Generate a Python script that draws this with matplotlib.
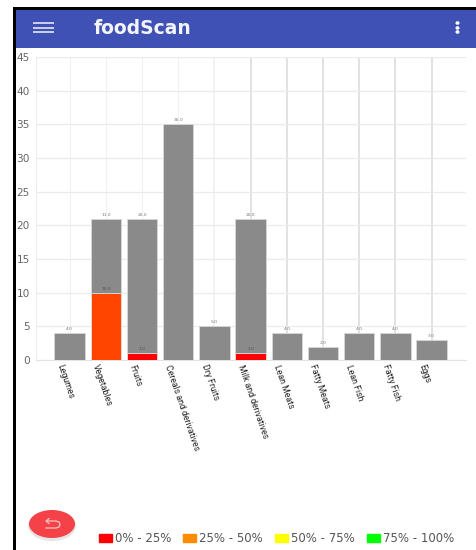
import matplotlib
matplotlib.use('Agg')
import numpy as np
import matplotlib.pyplot as plt
from matplotlib.patches import Rectangle, Ellipse, Patch

#----------DATA-----------------------
categories = ['Legumes', 'Vegetables', 'Fruits', 'Cereals and derivatives', 'Dry Fruits',
              'Milk and derivatives', 'Lean Meats', 'Fatty Meats', 'Lean Fish', 'Fatty Fish', 'Eggs']
low_values = [0, 10, 1, 0, 0, 1, 0, 0, 0, 0, 0]
rest_values = [4, 11, 20, 35, 5, 20, 4, 2, 4, 4, 3]
low_colors = ['#FF0000', '#FF4500', '#FF0000', '#FF0000', '#FF0000', '#FF0000',
              '#FF0000', '#FF0000', '#FF0000', '#FF0000', '#FF0000']
y_ticks = [0, 5, 10, 15, 20, 25, 30, 35, 40, 45]
legend_labels = ['0% - 25%', '25% - 50%', '50% - 75%', '75% - 100%']
legend_colors = ['#FF0000', '#FF8C00', '#FFFF00', '#00FF00']

W, H = 477, 550
fig = plt.figure(figsize=(W / 100, H / 100), dpi=100, facecolor='white')

#----------APP CHROME (pixel coordinates)-----------------------
bg = fig.add_axes([0, 0, 1, 1], zorder=0)
bg.set_xlim(0, W)
bg.set_ylim(H, 0)
bg.axis('off')

bg.add_patch(Rectangle((13, 7), W - 13, 2.5, color='black', lw=0))
bg.add_patch(Rectangle((13, 7), 3, H - 7, color='black', lw=0))
bg.add_patch(Rectangle((16, 9.5), W - 16, 38, color='#3F51B5', lw=0))

for yy in (23, 28, 32):
    bg.plot([33, 54], [yy, yy], color='#E4E7F5', lw=1.2, solid_capstyle='butt')
for yy in (23, 28, 32):
    bg.add_patch(Ellipse((457.5, yy), 4, 3.6, color='white', lw=0))
bg.text(94, 28, 'foodScan', color='#F4F5FB', fontsize=13.5, fontweight='bold',
        family='DejaVu Sans', va='center', ha='left')

# back button
bg.add_patch(Ellipse((52, 526), 48, 30, color='#999999', alpha=0.25, lw=0))
bg.add_patch(Ellipse((52, 524), 46, 28, color='#F44248', lw=0))
bg.plot([47, 56, 59, 60, 59, 56, 46], [521, 521, 522, 524.5, 527, 528, 528],
        color='#FBC5C7', lw=0.9)
bg.plot([49, 46, 49], [518.5, 521, 523.5], color='#FBC5C7', lw=0.9)

#----------CHART-----------------------
left, right, top, bottom = 36, 466, 57, 360
ax = fig.add_axes([left / W, 1 - bottom / H, (right - left) / W, (bottom - top) / H], zorder=1)
ax.patch.set_alpha(0)

x = np.arange(len(categories))
ax.bar(x, low_values, width=0.84, color=low_colors, edgecolor='#E2E2E2', linewidth=0.6, zorder=3)
ax.bar(x, rest_values, width=0.84, bottom=low_values, color='#8A8A8A',
       edgecolor='#D8D8D8', linewidth=0.6, zorder=3)

# tiny value labels above each segment
for i in x:
    total = low_values[i] + rest_values[i]
    ax.text(i, total + 0.3, f'{rest_values[i]:.1f}', fontsize=3.2, color='#777777',
            ha='center', va='bottom', zorder=4)
    if low_values[i] > 0:
        ax.text(i, low_values[i] + 0.3, f'{low_values[i]:.1f}', fontsize=3.2, color='#555555',
                ha='center', va='bottom', zorder=4)

ax.set_xlim(-0.93, 10.95)
ax.set_ylim(0, 45)
ax.set_yticks(y_ticks)
ax.set_xticks(x)
ax.set_xticklabels([])
ax.tick_params(axis='both', length=0)
ax.tick_params(axis='y', labelsize=7.6, labelcolor='#666666', pad=4.5)

ax.grid(True, axis='y', color='#EBEBEB', linewidth=0.9, zorder=0)
ax.grid(True, axis='x', color='#E6E6E6', linewidth=1.0, zorder=0)
for i, line in enumerate(ax.get_xgridlines()):
    line.set_color('#F1F1F1' if i < 5 else '#DFDFDF')
    line.set_linewidth(0.8 if i < 4 else 1.3)
for name in ('top', 'right'):
    ax.spines[name].set_visible(False)
ax.spines['left'].set_color('#EEEEEE')
ax.spines['bottom'].set_color('#E4E4E4')
ax.set_axisbelow(True)

# rotated category labels hanging under the bars
for i, name in zip(x, categories):
    ax.annotate(name, xy=(i, 0), xytext=(-7.5, -3.5), textcoords='offset points',
                rotation=-71, rotation_mode='anchor', ha='left', va='center',
                fontsize=6.3, color='#222222', annotation_clip=False,
                family=['Liberation Sans Narrow', 'Roboto'])

#----------LEGEND-----------------------
handles = [Patch(color=c, label=l) for c, l in zip(legend_colors, legend_labels)]
fig.legend(handles=handles, ncol=4, frameon=False, loc='center left',
           bbox_to_anchor=(99 / W, 1 - 539 / H), fontsize=8.5, labelcolor='#555555',
           handlelength=1.1, handleheight=0.68, handletextpad=0.25, columnspacing=1.02,
           borderpad=0, borderaxespad=0)

fig.savefig('out.png', dpi=100)
